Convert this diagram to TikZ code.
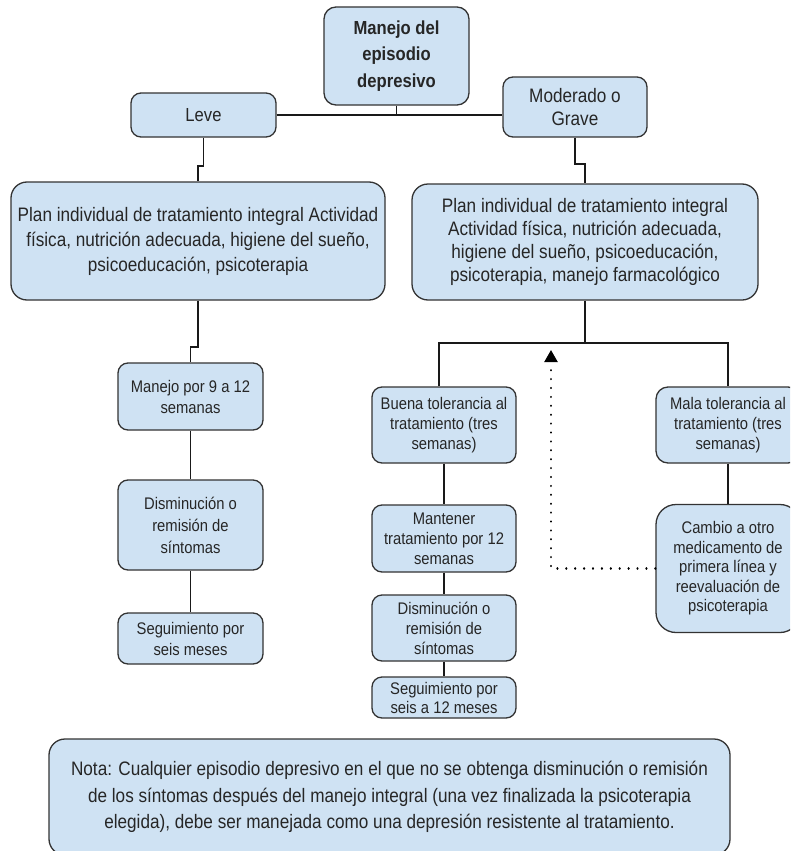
\documentclass[tikz,border=0pt]{standalone}
\usepackage{fontspec}
\setmainfont{Liberation Sans}[FakeStretch=0.88]
\usetikzlibrary{arrows.meta,calc}
\definecolor{boxfill}{HTML}{CFE2F3}
\definecolor{boxline}{HTML}{333333}
\newcommand\smfs{\fontsize{16.8}{20}\selectfont}
\tikzset{
  box/.style={draw=boxline, fill=boxfill, line width=1.3pt, rounded corners=10pt, inner sep=0pt, align=center, text=black!85},
  conn/.style={draw=black!90, line width=1.2pt},
  dotarrow/.style={draw=black, line width=2.2pt, line cap=round, dash pattern=on 0.1pt off 8.8pt, -{Triangle[length=12pt,width=13pt]}}
}
\begin{document}
\begin{tikzpicture}[x=1pt,y=-1pt]
\useasboundingbox (0,0) rectangle (790,851);
\clip (0,0) rectangle (790,851);
% boxes
\node[box, minimum width=145pt, minimum height=98pt, rounded corners=12pt, font=\bfseries\fontsize{18.9}{26.7}\selectfont] (top) at (396.5,56) {Manejo del\\episodio\\depresivo};
\node[box, minimum width=145pt, minimum height=44pt, font=\fontsize{18.9}{23}\selectfont] (leve) at (203.5,115) {Leve};
\node[box, minimum width=144pt, minimum height=60pt, font=\fontsize{19.5}{23}\selectfont] (mod) at (575,107) {Moderado o\\Grave};
\node[box, minimum width=374pt, minimum height=118pt, rounded corners=16pt, font=\fontsize{19.5}{25}\selectfont] (planL) at (198,241) {Plan individual de tratamiento integral Actividad\\física, nutrición adecuada, higiene del sueño,\\psicoeducación, psicoterapia};
\node[box, minimum width=346pt, minimum height=116pt, rounded corners=16pt, font=\fontsize{19.5}{23.3}\selectfont] (planR) at (585,242) {Plan individual de tratamiento integral\\Actividad física, nutrición adecuada,\\higiene del sueño, psicoeducación,\\psicoterapia, manejo farmacológico};
\node[box, minimum width=145pt, minimum height=67pt, font=\fontsize{16.8}{21}\selectfont] (manejo) at (190.5,396.5) {Manejo por 9 a 12\\semanas};
\node[box, minimum width=145pt, minimum height=90pt, font=\fontsize{16.8}{22}\selectfont] (disL) at (190.5,525) {Disminución o\\remisión de\\síntomas};
\node[box, minimum width=145pt, minimum height=51pt, font=\fontsize{16.8}{21}\selectfont] (segL) at (190.5,638.5) {Seguimiento por\\seis meses};
\node[box, minimum width=144pt, minimum height=76pt, font=\smfs] (buena) at (444,425) {Buena tolerancia al\\tratamiento (tres\\semanas)};
\node[box, minimum width=144pt, minimum height=67pt, font=\smfs] (mant) at (444,538.5) {Mantener\\tratamiento por 12\\semanas};
\node[box, minimum width=144pt, minimum height=66pt, font=\smfs] (disR) at (444,628) {Disminución o\\remisión de\\síntomas};
\node[box, minimum width=144pt, minimum height=41pt, font=\fontsize{16.8}{19}\selectfont] (segR) at (444,697.5) {Seguimiento por\\seis a 12 meses};
\node[box, minimum width=144pt, minimum height=76pt, rounded corners=12pt, font=\smfs] (mala) at (728,425) {Mala tolerancia al\\tratamiento (tres\\semanas)};
\node[box, minimum width=144pt, minimum height=128pt, rounded corners=20pt, font=\fontsize{16.8}{19.5}\selectfont] (cambio) at (728,568.5) {Cambio a otro\\medicamento de\\primera línea y\\reevaluación de\\psicoterapia};
\node[box, minimum width=681pt, minimum height=116pt, rounded corners=16pt, font=\fontsize{19.5}{26.5}\selectfont] (nota) at (389.5,797) {Nota: Cualquier episodio depresivo en el que no se obtenga disminución o remisión\\de los síntomas después del manejo integral (una vez finalizada la psicoterapia\\elegida), debe ser manejada como una depresión resistente al tratamiento.};
% connectors
\draw[conn] (top.south) -- (top.south |- leve.east);
\draw[conn] (leve.east) -- (mod.west |- leve.east);
\draw[conn] (leve.south) -- (leve.south |- 0,166) -| (planL.north);
\draw[conn] (mod.south) -- (mod.south |- 0,164) -| (planR.north);
\draw[conn] (planL.south) -- (planL.south |- 0,347) -| (manejo.north);
\draw[conn] (planR.south) -- (planR.south |- 0,343);
\draw[conn] ($(buena.north)+(-5,0)$) -- ($(buena.north |- 0,343)+(-5,0)$) -- (mala.north |- 0,343) -- (mala.north);
\draw[conn] (manejo.south) -- (disL.north);
\draw[conn] (disL.south) -- (segL.north);
\draw[conn] (buena.south) -- (mant.north);
\draw[conn] (mant.south) -- (disR.north);
\draw[conn] (disR.south) -- (segR.north);
\draw[conn] (mala.south) -- (cambio.north);
\coordinate (tip) at (551,350);
\draw[dotarrow] (cambio.west) -| (tip);
\end{tikzpicture}
\end{document}
